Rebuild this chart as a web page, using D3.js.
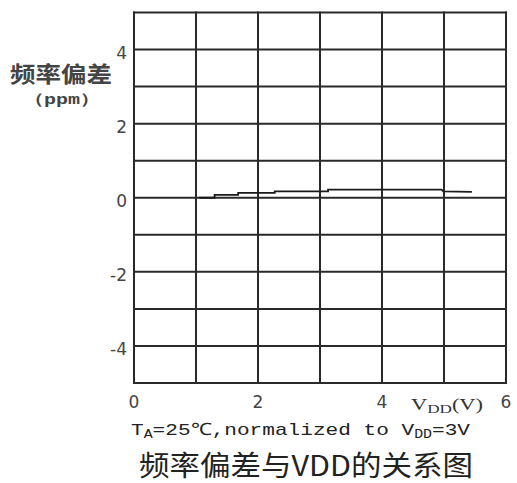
<!DOCTYPE html>
<html lang="zh">
<head>
<meta charset="UTF-8">
<title>频率偏差与VDD的关系图</title>
<script src="https://cdn.jsdelivr.net/npm/d3@7"></script>
<style>
    body { margin: 0; background: #fff; }
    svg { display: block; }
    .grid line { stroke: #2a2a2a; stroke-width: 2px; }
    .tick-label { font-family: "DejaVu Sans", sans-serif; font-size: 17px; fill: #444; }
    .curve { fill: none; stroke: #1a1a1a; stroke-width: 1.8px; }
</style>
</head>
<body>
<script>
    // x: VDD (V), y: frequency deviation (ppm)
    const vdd = [1.05, 1.3, 1.3, 1.68, 1.68, 2.27, 2.27, 3.13, 3.13, 4.96, 4.99, 5.45];
    const ppm = [0.00, 0.00, 0.08, 0.08, 0.13, 0.13, 0.17, 0.17, 0.22, 0.22, 0.17, 0.16];
    const xTicks = [0, 2, 4, 6];
    const yTicks = [4, 2, 0, -2, -4];
    const xGrid = [0, 1, 2, 3, 4, 5, 6];
    const yGrid = [-5, -4, -3, -2, -1, 0, 1, 2, 3, 4, 5];

    const width = 517, height = 483;
    const margin = { top: 12.5, right: 11, bottom: 100, left: 134 };

    const svg = d3.select("body").append("svg")
        .attr("width", width)
        .attr("height", height);

    const x = d3.scaleLinear().domain([0, 6]).range([margin.left, width - margin.right]);
    const y = d3.scaleLinear().domain([-5, 5]).range([height - margin.bottom, margin.top]);

    // grid + frame
    const grid = svg.append("g").attr("class", "grid");
    grid.selectAll(".v").data(xGrid).enter().append("line")
        .attr("x1", d => x(d)).attr("x2", d => x(d))
        .attr("y1", y(5) - 1).attr("y2", y(-5) + 1);
    grid.selectAll(".h").data(yGrid).enter().append("line")
        .attr("x1", x(0) - 1).attr("x2", x(6) + 1)
        .attr("y1", d => y(d)).attr("y2", d => y(d));

    // y tick labels
    svg.selectAll(".ylab").data(yTicks).enter().append("text")
        .attr("class", "tick-label")
        .attr("x", x(0) - 7)
        .attr("y", d => y(d) + 9)
        .attr("text-anchor", "end")
        .text(d => d < 0 ? "-" + Math.abs(d) : d);

    // x tick labels
    svg.selectAll(".xlab").data(xTicks).enter().append("text")
        .attr("class", "tick-label")
        .attr("x", d => x(d))
        .attr("y", y(-5) + 25)
        .attr("text-anchor", "middle")
        .text(d => d);

    // curve
    const line = d3.line()
        .x((d, i) => x(vdd[i]))
        .y((d, i) => y(ppm[i]));
    svg.append("path")
        .datum(ppm)
        .attr("class", "curve")
        .attr("d", line);

    // axis title y
    svg.append("text")
        .attr("x", 61).attr("y", 82)
        .attr("text-anchor", "middle")
        .style("font-family", "'Noto Sans CJK SC', sans-serif")
        .style("font-size", "22px").style("font-weight", "bold")
        .style("fill", "#444")
        .attr("textLength", 102).attr("lengthAdjust", "spacingAndGlyphs")
        .text("频率偏差");
    svg.append("text")
        .attr("x", 62).attr("y", 104)
        .attr("text-anchor", "middle")
        .style("font-family", "'Liberation Mono', monospace")
        .style("font-size", "15px").style("font-weight", "bold")
        .style("fill", "#444")
        .attr("textLength", 76).attr("lengthAdjust", "spacingAndGlyphs")
        .text("（ppm）");

    // x axis title VDD(V)
    const xt = svg.append("text")
        .attr("x", 411).attr("y", 410)
        .style("font-family", "'Liberation Serif', serif")
        .style("font-size", "17px").style("fill", "#333")
        .attr("textLength", 72).attr("lengthAdjust", "spacingAndGlyphs");
    xt.append("tspan").text("V");
    xt.append("tspan").attr("dy", 3).style("font-size", "13px").text("DD");
    xt.append("tspan").attr("dy", -3).text("(V)");

    // condition note
    const note = svg.append("text")
        .attr("x", 131).attr("y", 435)
        .style("font-family", "'Liberation Mono', monospace")
        .style("font-size", "17px").style("fill", "#222")
        .attr("textLength", 339).attr("lengthAdjust", "spacingAndGlyphs");
    note.append("tspan").text("T");
    note.append("tspan").attr("dy", 3).style("font-size", "12px").text("A");
    note.append("tspan").attr("dy", -3).text("=25℃,normalized to V");
    note.append("tspan").attr("dy", 3).style("font-size", "12px").text("DD");
    note.append("tspan").attr("dy", -3).text("=3V");

    // caption
    svg.append("text")
        .attr("x", 306).attr("y", 476)
        .attr("text-anchor", "middle")
        .style("font-family", "'Noto Sans CJK SC', sans-serif")
        .style("font-size", "28px").style("fill", "#222")
        .attr("textLength", 334).attr("lengthAdjust", "spacingAndGlyphs")
        .text("频率偏差与VDD的关系图");
</script>
</body>
</html>
